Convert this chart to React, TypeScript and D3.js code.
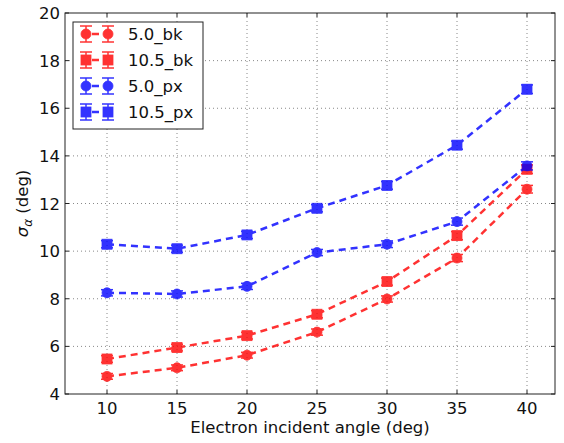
import React from "react";
import * as d3 from "d3";

// Incident angles (deg)
const angles = [10, 15, 20, 25, 30, 35, 40];

// Angular resolution sigma_alpha (deg) per configuration
const bk50 = [4.74, 5.1, 5.63, 6.6, 7.99, 9.71, 12.6];
const bk105 = [5.47, 5.95, 6.45, 7.35, 8.72, 10.65, 13.44];
const px50 = [8.25, 8.2, 8.52, 9.94, 10.29, 11.24, 13.58];
const px105 = [10.29, 10.1, 10.68, 11.8, 12.76, 14.45, 16.8];

// Uncertainties on sigma_alpha (deg)
const errBk50 = [0.12, 0.12, 0.12, 0.13, 0.13, 0.15, 0.16];
const errBk105 = [0.14, 0.14, 0.14, 0.15, 0.15, 0.17, 0.18];
const errPx50 = [0.13, 0.13, 0.13, 0.13, 0.14, 0.15, 0.17];
const errPx105 = [0.15, 0.15, 0.15, 0.15, 0.16, 0.17, 0.18];

const seriesNames = ["5.0_bk", "10.5_bk", "5.0_px", "10.5_px"];
const seriesColors = ["#ff0000", "#ff0000", "#0000ff", "#0000ff"];
const seriesShapes = ["circle", "square", "circle", "square"];

const xTicks = [10, 15, 20, 25, 30, 35, 40];
const yTicks = [4, 6, 8, 10, 12, 14, 16, 18, 20];

const W = 564;
const H = 443;
const plot = { left: 65, right: 555, top: 13, bottom: 394 };
const FONT = "'DejaVu Sans', sans-serif";
const FS = 16.5;

function Marker({ shape, x, y, color }: { shape: string; x: number; y: number; color: string }) {
  if (shape === "circle") return <circle cx={x} cy={y} r={5} fill={color} stroke={color} strokeWidth={0.8} />;
  return <rect x={x - 5} y={y - 5} width={10} height={10} fill={color} stroke={color} strokeWidth={0.8} />;
}

function ErrBar({ x, y0, y1, color }: { x: number; y0: number; y1: number; color: string }) {
  const cap = 6;
  return (
    <g stroke={color} strokeWidth={1.5}>
      <line x1={x} x2={x} y1={y0} y2={y1} />
      <line x1={x - cap} x2={x + cap} y1={y0} y2={y0} />
      <line x1={x - cap} x2={x + cap} y1={y1} y2={y1} />
    </g>
  );
}

export default function App() {
  const x = d3.scaleLinear().domain([7, 42]).range([plot.left, plot.right]);
  const y = d3.scaleLinear().domain([4, 20]).range([plot.bottom, plot.top]);

  const values = [bk50, bk105, px50, px105];
  const errors = [errBk50, errBk105, errPx50, errPx105];

  const line = d3
    .line<number>()
    .x((_, i) => x(angles[i]))
    .y((d) => y(d));

  const tickLen = 4;
  const legendRows = [34, 60, 86, 112];

  return (
    <svg width={W} height={H} style={{ position: "absolute", left: 0, top: 0, background: "#fff" }} fontFamily={FONT}>
      <rect x={0} y={0} width={W} height={H} fill="#fff" />
      {/* grid */}
      <g stroke="#888" strokeWidth={1} strokeDasharray="1,3">
        {xTicks.map((t) => (
          <line key={"gx" + t} x1={x(t)} x2={x(t)} y1={plot.top} y2={plot.bottom} />
        ))}
        {yTicks.slice(1, -1).map((t) => (
          <line key={"gy" + t} x1={plot.left} x2={plot.right} y1={y(t)} y2={y(t)} />
        ))}
      </g>

      {/* series */}
      {values.map((vals, si) => (
        <g key={seriesNames[si]} opacity={0.8}>
          <path d={line(vals) || ""} fill="none" stroke={seriesColors[si]} strokeWidth={2.5} strokeDasharray="7,5" />
          {vals.map((v, i) => (
            <g key={i}>
              <ErrBar x={x(angles[i])} y0={y(v + errors[si][i])} y1={y(v - errors[si][i])} color={seriesColors[si]} />
              <Marker shape={seriesShapes[si]} x={x(angles[i])} y={y(v)} color={seriesColors[si]} />
            </g>
          ))}
        </g>
      ))}

      {/* frame and ticks */}
      <g stroke="#222" strokeWidth={1}>
        <rect x={plot.left} y={plot.top} width={plot.right - plot.left} height={plot.bottom - plot.top} fill="none" />
        {xTicks.map((t) => (
          <g key={"tx" + t}>
            <line x1={x(t)} x2={x(t)} y1={plot.bottom} y2={plot.bottom - tickLen} />
            <line x1={x(t)} x2={x(t)} y1={plot.top} y2={plot.top + tickLen} />
          </g>
        ))}
        {yTicks.map((t) => (
          <g key={"ty" + t}>
            <line x1={plot.left} x2={plot.left + tickLen} y1={y(t)} y2={y(t)} />
            <line x1={plot.right} x2={plot.right - tickLen} y1={y(t)} y2={y(t)} />
          </g>
        ))}
      </g>

      {/* tick labels */}
      <g fontSize={FS} fill="#111">
        {xTicks.map((t) => (
          <text key={"lx" + t} x={x(t)} y={plot.bottom + 19.5} textAnchor="middle">
            {t}
          </text>
        ))}
        {yTicks.map((t) => (
          <text key={"ly" + t} x={plot.left - 5} y={y(t) + 6} textAnchor="end">
            {t}
          </text>
        ))}
      </g>

      {/* axis labels */}
      <text x={(plot.left + plot.right) / 2} y={433} textAnchor="middle" fontSize={FS} fill="#111">
        Electron incident angle (deg)
      </text>
      <text transform={`translate(28, ${(plot.top + plot.bottom) / 2}) rotate(-90)`} textAnchor="middle" fontSize={FS} fill="#111">
        <tspan fontStyle="italic">σ</tspan>
        <tspan fontStyle="italic" fontSize={12} dy={4}>α</tspan>
        <tspan dy={-4}> (deg)</tspan>
      </text>

      {/* legend */}
      <g>
        <rect x={73} y={22} width={130} height={107} fill="#fff" stroke="#222" strokeWidth={1} />
        {seriesNames.map((name, si) => {
          const cy = legendRows[si];
          const c = seriesColors[si];
          return (
            <g key={"lg" + name}>
              <g opacity={0.8}>
                <line x1={86} x2={108} y1={cy} y2={cy} stroke={c} strokeWidth={2.5} strokeDasharray="7,5" strokeDashoffset={-6} />
                {[86, 108].map((mx) => (
                  <g key={mx}>
                    <ErrBar x={mx} y0={cy - 8} y1={cy + 8} color={c} />
                    <Marker shape={seriesShapes[si]} x={mx} y={cy} color={c} />
                  </g>
                ))}
              </g>
              <text x={128} y={cy + 6} fontSize={FS} fill="#111">
                {name}
              </text>
            </g>
          );
        })}
      </g>
    </svg>
  );
}
